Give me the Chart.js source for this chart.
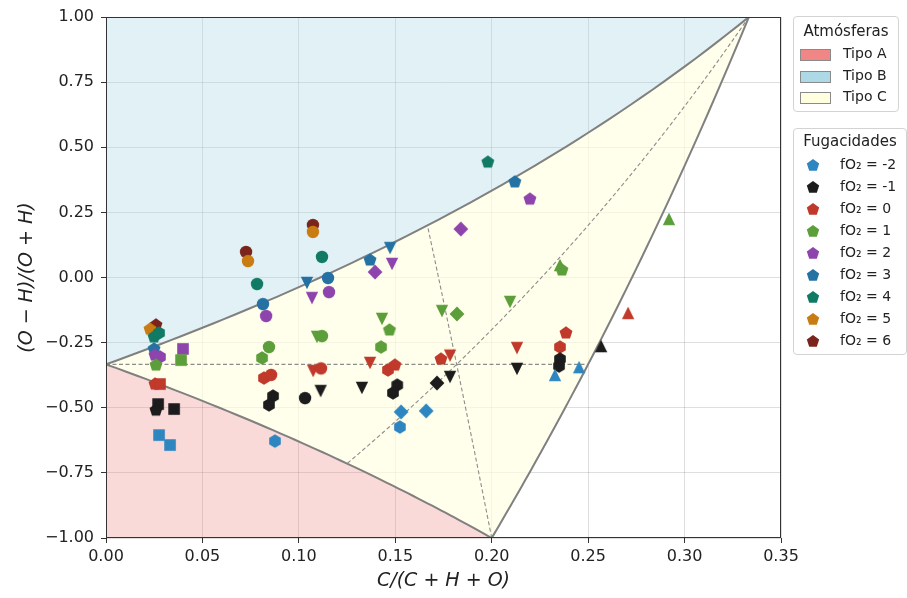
<!DOCTYPE html>
<html>
<head>
<meta charset="utf-8">
<script src="https://cdn.jsdelivr.net/npm/chart.js@4.4.0/dist/chart.umd.min.js"></script>
<style>
  body { margin: 0; background: #fff; font-family: 'DejaVu Sans', sans-serif; }
  #wrap { position: relative; width: 907px; height: 598px; }
  #wrap canvas { position: absolute; left: 0; top: 0; }
  .legend { position: absolute; border: 1px solid #d3d3d3; border-radius: 4px; background: #fff; color: #222; }
  .legend .title { position: absolute; left: 0; right: 0; text-align: center; font-size: 15px; }
  .legend .row { position: absolute; font-size: 14px; white-space: nowrap; }
  .swatch { position: absolute; width: 29px; height: 10px; border: 1px solid #8a8a8a; }
</style>
</head>
<body>
<div id="wrap">
  <canvas id="chemChart" width="907" height="598"></canvas>
  <div class="legend" id="legAtm" style="left:793px; top:16px; width:104px; height:94px;"></div>
  <div class="legend" id="legFug" style="left:793px; top:128px; width:112px; height:225px;"></div>
</div>
<script>
// Atmosphere diagram: C/(C+H+O) vs (O-H)/(O+H)

// end members as atom counts [C, H, O]
const H2O = [0, 2, 1];
const CH4 = [1, 4, 0];
const CO2 = [1, 0, 2];

const xTicks = [0, 0.05, 0.10, 0.15, 0.20, 0.25, 0.30, 0.35];
const yTicks = [-1, -0.75, -0.5, -0.25, 0, 0.25, 0.5, 0.75, 1];

const fo2Labels = ['-2', '-1', '0', '1', '2', '3', '4', '5', '6'];
const fo2Colors = ['#2E86C1', '#1C1C1C', '#C0392B', '#5C9E3A', '#8E44AD', '#2471A3', '#117A65', '#C97C12', '#7B241C'];

// [C/(C+H+O), (O-H)/(O+H), marker]
const fo2m2 = [[0.0275,-0.605,'s'],[0.0332,-0.643,'s'],[0.0876,-0.628,'h'],[0.1524,-0.574,'h'],
  [0.1530,-0.516,'D'],[0.1660,-0.512,'D'],[0.2328,-0.374,'^'],[0.2453,-0.344,'^']];
const fo2m1 = [[0.0270,-0.486,'s'],[0.0259,-0.509,'p'],[0.0353,-0.505,'s'],[0.0866,-0.455,'h'],
  [0.0845,-0.489,'h'],[0.1032,-0.463,'o'],[0.1113,-0.436,'v'],[0.1327,-0.424,'v'],[0.1510,-0.413,'h'],
  [0.1488,-0.443,'h'],[0.1716,-0.405,'D'],[0.1784,-0.382,'v'],[0.2131,-0.351,'v'],[0.2354,-0.313,'h'],
  [0.2349,-0.340,'h'],[0.2567,-0.263,'^']];
const fo2p0 = [[0.0254,-0.409,'p'],[0.0280,-0.409,'s'],[0.0819,-0.386,'h'],[0.0856,-0.374,'o'],
  [0.1074,-0.359,'v'],[0.1115,-0.349,'o'],[0.1369,-0.328,'v'],[0.1462,-0.355,'h'],[0.1498,-0.336,'p'],
  [0.1737,-0.313,'p'],[0.1784,-0.300,'v'],[0.2131,-0.271,'v'],[0.2354,-0.267,'h'],[0.2385,-0.213,'p'],
  [0.2707,-0.136,'^']];
const fo2p1 = [[0.0259,-0.336,'p'],[0.0389,-0.317,'s'],[0.0809,-0.309,'h'],[0.0845,-0.267,'o'],
  [0.1094,-0.228,'v'],[0.1120,-0.225,'o'],[0.1431,-0.159,'v'],[0.1470,-0.2015,'p'],[0.1426,-0.267,'h'],
  [0.1742,-0.129,'v'],[0.1820,-0.140,'D'],[0.2095,-0.094,'v'],[0.2354,0.048,'^'],[0.2364,0.029,'p'],
  [0.2919,0.225,'^']];
const fo2p2 = [[0.0254,-0.298,'p'],[0.0280,-0.305,'h'],[0.0399,-0.274,'s'],[0.0830,-0.148,'o'],
  [0.1068,-0.079,'v'],[0.1156,-0.056,'o'],[0.1395,0.021,'D'],[0.1483,0.052,'v'],[0.1840,0.186,'D'],
  [0.2198,0.301,'p']];
const fo2p3 = [[0.0249,-0.274,'p'],[0.0814,-0.102,'o'],[0.1042,-0.021,'v'],[0.1151,-0.002,'o'],
  [0.1369,0.067,'p'],[0.1473,0.113,'v'],[0.2120,0.367,'p']];
const fo2p4 = [[0.0249,-0.228,'p'],[0.0275,-0.213,'h'],[0.0783,-0.025,'o'],[0.1120,0.079,'o'],[0.1980,0.443,'p']];
const fo2p5 = [[0.0228,-0.198,'p'],[0.0736,0.063,'o'],[0.1073,0.175,'o']];
const fo2p6 = [[0.0259,-0.182,'p'],[0.0726,0.098,'o'],[0.1073,0.2015,'o']];

const fo2Series = [fo2m2, fo2m1, fo2p0, fo2p1, fo2p2, fo2p3, fo2p4, fo2p5, fo2p6];

// composition -> diagram coordinates
function toXY(c) {
    const [C, H, O] = c;
    return { x: C / (C + H + O), y: (O - H) / (O + H) };
}

function mid(a, b) {
    return a.map((v, i) => (v + b[i]) / 2);
}

// molar mixing line between two compositions
function mixLine(a, b, n) {
    n = n || 60;
    const pts = [];
    for (let i = 0; i <= n; i++) {
        const t = i / n;
        pts.push(toXY(a.map((v, k) => v * (1 - t) + b[k] * t)));
    }
    return pts;
}

const lineH2OCH4 = mixLine(H2O, CH4);
const lineH2OCO2 = mixLine(H2O, CO2);
const lineCO2CH4 = mixLine(CO2, CH4);

const regionA = lineH2OCH4.concat([{ x: 0, y: -1 }, toXY(H2O)]);
const regionB = lineH2OCO2.concat([{ x: 0, y: 1 }, toXY(H2O)]);
const regionC = lineH2OCO2.concat(lineCO2CH4, mixLine(CH4, H2O));

// marker images
const markerCache = {};
function marker(shape, color) {
    const key = shape + color;
    if (markerCache[key]) return markerCache[key];
    const c = document.createElement('canvas');
    c.width = 20; c.height = 20;
    const g = c.getContext('2d');
    g.fillStyle = color;
    g.translate(10, 10);
    g.beginPath();
    const poly = (n, r, rot) => {
        for (let i = 0; i < n; i++) {
            const a = rot + i * 2 * Math.PI / n;
            const px = r * Math.cos(a), py = r * Math.sin(a);
            if (i === 0) g.moveTo(px, py); else g.lineTo(px, py);
        }
        g.closePath();
    };
    switch (shape) {
        case 'o': g.arc(0, 0, 6.2, 0, Math.PI * 2); break;
        case 's': g.rect(-5.8, -5.8, 11.6, 11.6); break;
        case 'p': poly(5, 6.8, -Math.PI / 2); break;
        case 'h': poly(6, 6.7, -Math.PI / 2); break;
        case 'D': poly(4, 7.4, -Math.PI / 2); break;
        case '^': g.moveTo(0, -6.2); g.lineTo(6.2, 6.2); g.lineTo(-6.2, 6.2); g.closePath(); break;
        case 'v': g.moveTo(0, 6.2); g.lineTo(6.2, -6.2); g.lineTo(-6.2, -6.2); g.closePath(); break;
    }
    g.fill();
    markerCache[key] = c;
    return c;
}

const pointSets = fo2Series.map((series, i) => ({
    type: 'scatter',
    label: 'fO₂ = ' + fo2Labels[i],
    data: series.map(p => ({ x: p[0], y: p[1], m: p[2] })),
    pointStyle: ctx => marker(ctx.raw ? ctx.raw.m : 'p', fo2Colors[i]),
    pointRadius: 6,
    order: 0
}));

function regionSet(pts, color) {
    return { type: 'line', data: pts, fill: 'shape', backgroundColor: color, borderWidth: 0,
        pointRadius: 0, tension: 0, order: 20 };
}

function boundSet(pts) {
    return { type: 'line', data: pts, fill: false, borderColor: '#808080', borderWidth: 2,
        pointRadius: 0, tension: 0, order: 10 };
}

function medianSet(pts) {
    return { type: 'line', data: pts, fill: false, borderColor: '#8c8c8c', borderWidth: 1.1,
        borderDash: [4, 2.5], pointRadius: 0, tension: 0, order: 11 };
}

const framePlugin = {
    id: 'frame',
    afterDatasetsDraw(chart) {
        const a = chart.chartArea, g = chart.ctx;
        g.save();
        g.strokeStyle = '#333';
        g.lineWidth = 1;
        g.strokeRect(Math.round(a.left) + 0.5, Math.round(a.top) + 0.5,
            Math.round(a.right - a.left) - 1, Math.round(a.bottom - a.top) - 1);
        g.restore();
    }
};

const tickFont = { family: "'DejaVu Sans', sans-serif", size: 16 };
const titleFont = { family: "'DejaVu Sans', sans-serif", size: 19, style: 'italic' };

new Chart(document.getElementById('chemChart'), {
    type: 'scatter',
    data: {
        datasets: pointSets.concat([
            regionSet(regionA, 'rgba(240,128,128,0.3)'),
            regionSet(regionB, 'rgba(173,216,230,0.35)'),
            regionSet(regionC, 'rgba(255,255,224,0.65)'),
            medianSet(mixLine(H2O, mid(CH4, CO2))),
            medianSet(mixLine(CH4, mid(H2O, CO2))),
            medianSet(mixLine(CO2, mid(H2O, CH4))),
            boundSet(lineH2OCH4),
            boundSet(lineH2OCO2),
            boundSet(lineCO2CH4)
        ])
    },
    options: {
        responsive: false,
        animation: false,
        layout: { padding: { left: 0, top: 17, right: 126, bottom: 0 } },
        plugins: {
            legend: { display: false },
            tooltip: { enabled: false }
        },
        scales: {
            x: {
                type: 'linear',
                min: 0,
                max: 0.35,
                afterBuildTicks: s => { s.ticks = xTicks.map(v => ({ value: v })); },
                afterFit: s => { s.height = 60; },
                grid: { color: 'rgba(0,0,0,0.13)', tickColor: '#333', tickLength: 5 },
                border: { display: false },
                ticks: {
                    font: tickFont, color: '#222', padding: 4, maxRotation: 0,
                    callback: v => v.toFixed(2)
                },
                title: { display: true, text: 'C/(C + H + O)', font: titleFont, color: '#222',
                    padding: { top: 4, bottom: 6 } }
            },
            y: {
                type: 'linear',
                min: -1,
                max: 1,
                afterBuildTicks: s => { s.ticks = yTicks.map(v => ({ value: v })); },
                afterFit: s => { s.width = 106; },
                grid: { color: 'rgba(0,0,0,0.13)', tickColor: '#333', tickLength: 5 },
                border: { display: false },
                ticks: {
                    font: tickFont, color: '#222', padding: 7,
                    callback: v => v.toFixed(2).replace('-', '\u2212')
                },
                title: { display: true, text: '(O \u2212 H)/(O + H)', font: titleFont, color: '#222',
                    padding: { top: 16, bottom: 4 } }
            }
        }
    },
    plugins: [framePlugin]
});

// legends
const atmNames = ['Tipo A', 'Tipo B', 'Tipo C'];
const atmColors = ['rgba(240,128,128,0.95)', '#ADD8E6', '#FFFFE0'];

const legAtm = document.getElementById('legAtm');
legAtm.innerHTML = '<div class="title" style="top:5px">Atmósferas</div>' +
    atmNames.map((n, i) =>
        '<div class="swatch" style="left:6px; top:' + (32 + i * 21.5) + 'px; background:' + atmColors[i] + '"></div>' +
        '<div class="row" style="left:49px; top:' + (28 + i * 21.5) + 'px">' + n + '</div>'
    ).join('');

function pentagonSvg(color) {
    const pts = [];
    for (let i = 0; i < 5; i++) {
        const a = -Math.PI / 2 + i * 2 * Math.PI / 5;
        pts.push((7 + 6.5 * Math.cos(a)).toFixed(2) + ',' + (7.5 + 6.5 * Math.sin(a)).toFixed(2));
    }
    return '<svg width="14" height="15" style="position:absolute"><polygon points="' + pts.join(' ') +
        '" fill="' + color + '"/></svg>';
}

const legFug = document.getElementById('legFug');
legFug.innerHTML = '<div class="title" style="top:3px">Fugacidades</div>' +
    fo2Labels.map((l, i) =>
        '<div style="position:absolute; left:12px; top:' + (29 + i * 22) + 'px">' + pentagonSvg(fo2Colors[i]) + '</div>' +
        '<div class="row" style="left:46px; top:' + (27 + i * 22) + 'px">fO₂ = ' + l + '</div>'
    ).join('');
</script>
</body>
</html>
